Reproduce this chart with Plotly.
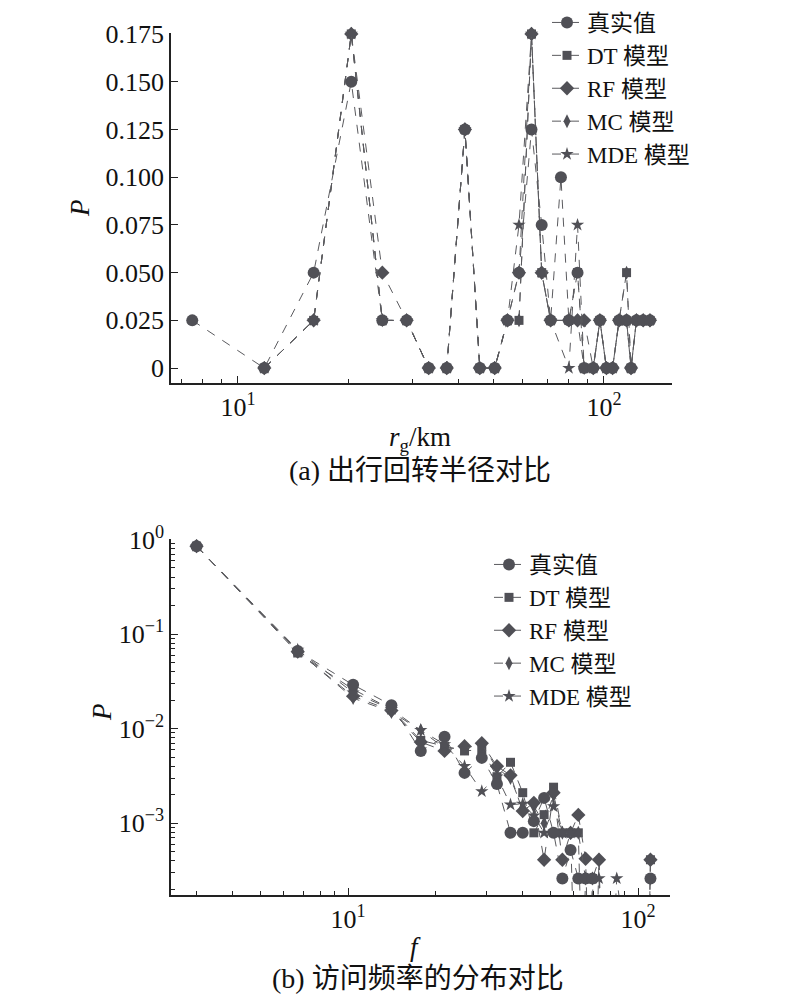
import plotly.graph_objects as go

# ---------- (a) radius of gyration ----------
rg = [7.5, 11.8, 16.1, 20.4, 24.8, 28.9, 33.2, 37.2, 41.7, 45.8, 50.3, 54.5, 58.6, 63.4, 67.6,
      71.5, 76.3, 80.2, 84.7, 88.3, 93.5, 97.5, 101.6, 105.6, 110.0, 115.3, 118.6, 122.7, 128.0, 133.6]
p_true = [0.025, 0, 0.05, 0.15, 0.025, 0.025, 0, 0, 0.125, 0, 0, 0.025, 0.05, 0.125, 0.075,
          0.025, 0.1, 0.025, 0.05, 0, 0, 0.025, 0, 0, 0.025, 0.025, 0, 0.025, 0.025, 0.025]
p_dt = [None, 0, 0.025, 0.175, 0.025, 0.025, 0, 0, 0.125, 0, 0, 0.025, 0.025, 0.175, 0.05,
        0.025, None, 0.025, 0.05, 0, 0, 0.025, 0, 0, 0.025, 0.05, 0, 0.025, 0.025, 0.025]
p_rf = [None, 0, 0.025, 0.175, 0.05, 0.025, 0, 0, 0.125, 0, 0, 0.025, 0.05, 0.175, 0.05,
        0.025, None, 0.025, 0.025, 0.025, 0, 0.025, 0, 0, 0.025, 0.025, 0, 0.025, 0.025, 0.025]
p_mc = [None, 0, 0.025, 0.175, 0.025, 0.025, 0, 0, 0.125, 0, 0, 0.025, 0.025, 0.175, 0.05,
        0.025, None, 0.025, 0.025, 0, 0, 0.025, 0, 0, 0.025, 0.05, 0, 0.025, 0.025, 0.025]
p_mde = [None, 0, 0.025, 0.175, 0.025, 0.025, 0, 0, 0.125, 0, 0, 0.025, 0.075, 0.175, 0.05,
         0.025, None, 0, 0.075, 0, 0, 0.025, 0, 0, 0.025, 0.025, 0, 0.025, 0.025, 0.025]
yticks_a = [0, 0.025, 0.05, 0.075, 0.1, 0.125, 0.15, 0.175]
yticktext_a = ["0", "0.025", "0.050", "0.075", "0.100", "0.125", "0.150", "0.175"]
xticks_log = [10, 100]
xticktext_log = ["10<sup>1</sup>", "10<sup>2</sup>"]

# ---------- (b) visit frequency ----------
f = [3, 6.7, 10.4, 14.1, 17.8, 21.5, 25.2, 28.9, 32.6, 36.3, 40.0, 43.7, 47.4, 51.1, 54.8,
     58.5, 62.2, 65.9, 69.6, 73.3, 77.0, 84.4, 106.6, 110.3]
q_true = [0.85, 0.066, 0.029, 0.0177, 0.0058, 0.0082, 0.0034, 0.0049, 0.0026, 0.00079, 0.00079,
          0.00105, 0.00185, 0.00079, 0.00026, 0.00052, 0.00026, 0.00026, 0.00026, 0, 0, 0, 0, 0.00026]
q_dt = [0.85, 0.063, 0.026, 0.016, 0.0075, 0.0065, 0.0058, 0.006, 0.0031, 0.0044, 0.0021,
        0.00079, 0.00123, 0.0024, 0.00079, 0.00079, 0.00079, 0, 0.00026, 0, 0, 0, 0, 0.00041]
q_rf = [0.85, 0.065, 0.022, 0.0155, 0.0072, 0.0058, 0.0065, 0.0070, 0.0040, 0.0032, 0.00134,
        0.00164, 0.00041, 0.0021, 0.00041, 0.00079, 0.00122, 0.00042, 0, 0.00041, 0, 0, 0, 0.00041]
q_mc = [0.85, 0.066, 0.021, 0.015, 0.0096, 0.0062, 0.0062, 0.0068, 0.0038, 0.0030, 0.0014,
        0.0015, 0.0010, 0.0020, 0.00079, 0.00079, 0.00079, 0.00026, 0.00026, 0.00041, 0, 0, 0, 0.00041]
q_mde = [0.85, 0.068, 0.024, 0.016, 0.0096, 0.0068, 0.0040, 0.00217, 0.0031, 0.00157, 0.0016,
         0.0012, 0.00079, 0.0015, 0.00079, 0.00079, 0, 0.00026, 0.00026, 0.00026, 0, 0.00026, 0, 0]
yticks_b = [1, 0.1, 0.01, 0.001]
yticktext_b = ["10<sup>0</sup>", "10<sup>−1</sup>", "10<sup>−2</sup>", "10<sup>−3</sup>"]

names = ["真实值", "DT 模型", "RF 模型", "MC 模型", "MDE 模型"]
symbols = ["circle", "square", "diamond", "diamond-tall", "star"]
sizes = [12, 9, 11, 10, 10]

MK = "#505056"
LN = "#5a5a5e"
FONT = "Liberation Serif, Noto Sans CJK SC"

W, H, OFF = 800, 1003, 8  # page body margin offsets the figure by ~8px


def px(x):
    return (x - OFF) / W


def py(y):
    return 1 - (y - OFF) / H


fig = go.Figure()

series_a = [p_true, p_dt, p_rf, p_mc, p_mde]
series_b = [q_true, q_dt, q_rf, q_mc, q_mde]

order = [1, 2, 3, 4, 0]
for i in order:
    fig.add_trace(go.Scatter(
        x=rg, y=series_a[i], name=names[i], mode="lines+markers", connectgaps=True,
        cliponaxis=False,
        line=dict(color=LN, width=1, dash="dash"),
        marker=dict(symbol=symbols[i], size=sizes[i], color=MK),
        xaxis="x", yaxis="y", legend="legend", legendrank=i + 1))
for i in order:
    yv = [v if v > 0 else 1e-6 for v in series_b[i]]
    fig.add_trace(go.Scatter(
        x=f, y=yv, name=names[i], mode="lines+markers",
        line=dict(color=LN, width=1, dash="dash"),
        marker=dict(symbol=symbols[i], size=sizes[i], color=MK),
        xaxis="x2", yaxis="y2", legend="legend2", legendrank=i + 1))

axis_common = dict(showgrid=False, zeroline=False, showline=True, linecolor="#222",
                   linewidth=1.5, ticks="inside", tickcolor="#222", ticklen=7,
                   automargin=False,
                   tickfont=dict(family=FONT, size=26, color="#111"))

minor_b = []
for dec in [0.0001, 0.001, 0.01, 0.1]:
    for k in range(2, 10):
        minor_b.append(round(dec * k, 6))

fig.update_layout(
    width=W, height=H,
    margin=dict(l=0, r=0, t=0, b=0, autoexpand=False),
    paper_bgcolor="white", plot_bgcolor="white",
    font=dict(family=FONT, color="#111"),
    xaxis=dict(domain=[px(171), px(672)], anchor="y", type="log",
               range=[0.817, 2.186], tickvals=xticks_log, ticktext=xticktext_log,
               minor=dict(tickvals=[7, 8, 9, 20, 30, 40, 50, 60, 70, 80, 90],
                          ticks="inside", ticklen=4, tickcolor="#222"),
               **axis_common),
    yaxis=dict(domain=[py(383), py(33)], anchor="x", range=[-0.0078, 0.1755],
               tickvals=yticks_a, ticktext=yticktext_a, **axis_common),
    xaxis2=dict(domain=[px(171), px(670)], anchor="y2", type="log",
                range=[0.389, 2.11], tickvals=xticks_log, ticktext=xticktext_log,
                minor=dict(tickvals=[3, 4, 5, 6, 7, 8, 9, 20, 30, 40, 50, 60, 70, 80, 90],
                           ticks="inside", ticklen=4, tickcolor="#222"),
                **axis_common),
    yaxis2=dict(domain=[py(895), py(539)], anchor="x2", type="log",
                range=[-3.76, 0.005], tickvals=yticks_b, ticktext=yticktext_b,
                minor=dict(tickvals=minor_b, ticks="inside", ticklen=4, tickcolor="#222"),
                **axis_common),
    legend=dict(x=px(547), y=py(1), xanchor="left", yanchor="top", bgcolor="rgba(0,0,0,0)",
                font=dict(family=FONT, size=23, color="#111"), tracegroupgap=0,
                itemwidth=30),
    legend2=dict(x=px(489), y=py(543), xanchor="left", yanchor="top", bgcolor="rgba(0,0,0,0)",
                 font=dict(family=FONT, size=23, color="#111"), tracegroupgap=0,
                 itemwidth=30),
    showlegend=True,
)

ann = [
    dict(text="<i>P</i>", x=80, y=208, textangle=-90, size=27),
    dict(text="<i>r</i><sub>g</sub>/km", x=420, y=439, size=27),
    dict(text="(a) 出行回转半径对比", x=420, y=470, size=28),
    dict(text="<i>P</i>", x=102, y=712, textangle=-90, size=27),
    dict(text="<i>f</i>", x=415, y=947, size=27),
    dict(text="(b) 访问频率的分布对比", x=418, y=978, size=28),
]
for a in ann:
    fig.add_annotation(text=a["text"], x=px(a["x"]), y=py(a["y"]),
                       xref="paper", yref="paper", showarrow=False,
                       xanchor="center", yanchor="middle",
                       textangle=a.get("textangle", 0),
                       font=dict(family=FONT, size=a["size"], color="#111"))

fig.write_html("out.html")
